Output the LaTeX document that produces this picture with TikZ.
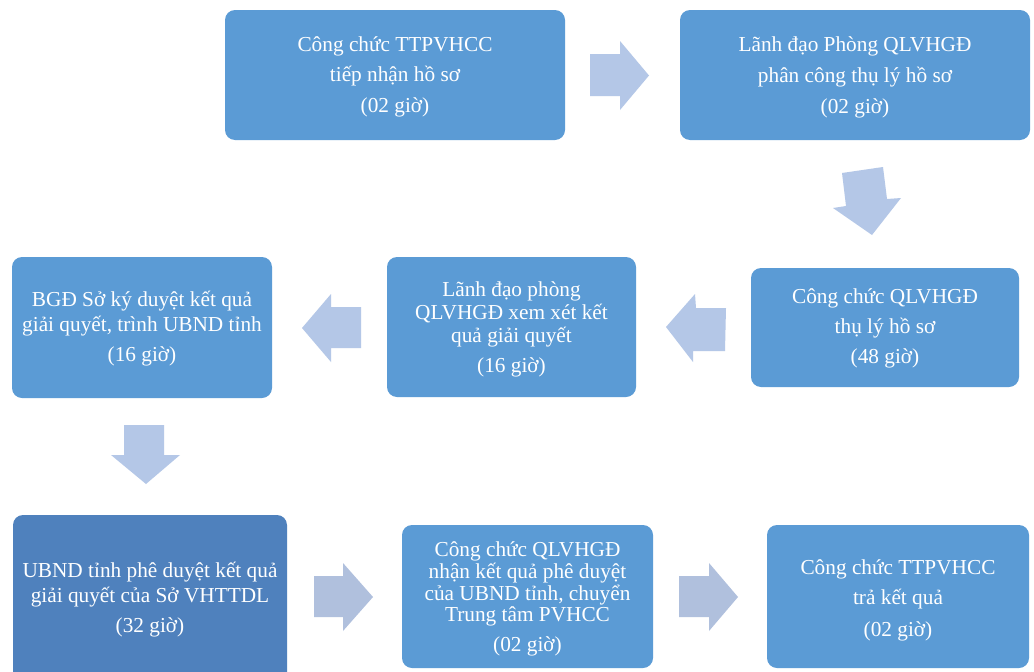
\documentclass[tikz,border=0pt]{standalone}
\usepackage{fontspec}
\setmainfont{Liberation Serif}
\definecolor{boxblue}{HTML}{5B9BD5}
\definecolor{boxdark}{HTML}{4F81BD}
\definecolor{arrblue}{HTML}{B4C7E7}
\definecolor{arrgrey}{HTML}{B0C0DD}
\begin{document}
\begin{tikzpicture}[x=1pt,y=-1pt,
  box/.style={fill=boxblue, draw=none, rounded corners=10pt, text=white, align=center, inner sep=2pt,
    font=\fontsize{21.3}{23}\selectfont},
  boxtext/.style={text=white, align=center, inner sep=0pt, font=\fontsize{21.3}{23}\selectfont},
  blockarrow/.style={fill=arrblue, draw=none},
  blockarrowg/.style={fill=arrgrey, draw=none}]
\clip (0,0) rectangle (1034,672);
\fill[white] (0,0) rectangle (1034,672);
% boxes
\node[box, minimum width=340pt, minimum height=130pt] (b1) at (395,75) {};
\node[boxtext] (t1) at ([yshift=-2pt]b1.center)
  {Công chức TTPVHCC\\[7pt]tiếp nhận hồ sơ\\[8pt](02 giờ)};
\node[box, minimum width=350pt, minimum height=130pt] (b2) at (855,75) {};
\node[boxtext] (t2) at ([yshift=-2pt]b2.center)
  {Lãnh đạo Phòng QLVHGĐ\\[8pt]phân công thụ lý hồ sơ\\[8pt](02 giờ)};
\node[box, minimum width=268pt, minimum height=119pt] (b3) at (885,327.5) {};
\node[boxtext] (t3) at ([yshift=-1pt]b3.center)
  {Công chức QLVHGĐ\\[7pt]thụ lý hồ sơ\\[7pt](48 giờ)};
\node[box, minimum width=249pt, minimum height=140pt] (b4) at (511.5,327) {};
\node[boxtext] (t4) at ([yshift=-2.5pt]b4.center)
  {Lãnh đạo phòng\\[-0.5pt]QLVHGĐ xem xét kết\\quả giải quyết\\[7pt](16 giờ)};
\node[box, minimum width=260pt, minimum height=141pt] (b5) at (142,327.5) {};
\node[boxtext] (t5) at ([yshift=-1.5pt]b5.center)
  {BGĐ Sở ký duyệt kết quả\\[2pt]giải quyết, trình UBND tỉnh\\[7pt](16 giờ)};
\node[box, fill=boxdark, minimum width=274pt, minimum height=168pt] (b6) at (150,599) {};
\node[boxtext] (t6) at ([yshift=-1pt]b6.center)
  {UBND tỉnh phê duyệt kết quả\\[2pt]giải quyết của Sở VHTTDL\\[7pt](32 giờ)};
\node[box, minimum width=251pt, minimum height=143pt] (b7) at (527.5,596.5) {};
\node[boxtext, font=\fontsize{21.3}{21.8}\selectfont] (t7) at ([yshift=-2.5pt]b7.center)
  {Công chức QLVHGĐ\\nhận kết quả phê duyệt\\của UBND tỉnh, chuyển\\Trung tâm PVHCC\\[8pt](02 giờ)};
\node[box, minimum width=262pt, minimum height=143pt] (b8) at (898,596.5) {};
\node[boxtext] (t8) at ([yshift=-3.5pt]b8.center)
  {Công chức TTPVHCC\\[7pt]trả kết quả\\[9pt](02 giờ)};
% block arrows
\fill[blockarrow] (590,54) -- (620,54) -- (620,41) -- (649,75.5) -- (620,110) -- (620,96) -- (590,96) -- cycle;
\fill[blockarrow] (842,173) -- (883,167) -- (887,199) -- (901,198) -- (872,235) -- (833,208) -- (846,206) -- cycle;
\fill[blockarrow] (726,308) -- (725,351) -- (693,351) -- (693,362) -- (666,327) -- (695,294) -- (696,308) -- cycle;
\fill[blockarrow] (361,307) -- (361,348) -- (331,348) -- (331,362) -- (302,328) -- (331,294) -- (331,307) -- cycle;
\fill[blockarrow] (124,425) -- (164,425) -- (164,455) -- (180,455) -- (146,484) -- (111,455) -- (124,455) -- cycle;
\fill[blockarrowg] (314,576) -- (343,576) -- (343,563) -- (373,597) -- (343,631) -- (343,617) -- (314,617) -- cycle;
\fill[blockarrowg] (679,576) -- (709,576) -- (709,563) -- (738,597) -- (709,631) -- (709,617) -- (679,617) -- cycle;
\end{tikzpicture}
\end{document}
